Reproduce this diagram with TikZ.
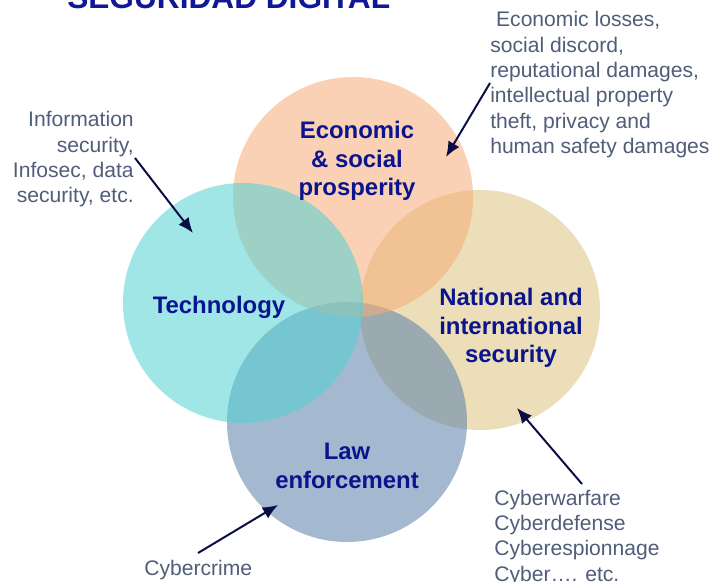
\documentclass[tikz,border=0pt]{standalone}
\usepackage{fontspec}
\setmainfont{Liberation Sans}
\usepackage{xcolor}
\usetikzlibrary{arrows.meta}
\definecolor{titleblue}{RGB}{16,24,150}
\definecolor{labelblue}{RGB}{10,20,140}
\definecolor{notegray}{RGB}{80,94,122}
\definecolor{arrownavy}{RGB}{10,12,70}
\definecolor{econfill}{RGB}{246,173,119}
\definecolor{techfill}{RGB}{82,210,213}
\definecolor{secfill}{RGB}{219,195,128}
\definecolor{lawfill}{RGB}{91,128,170}

\tikzset{
  disc/.style={fill opacity=0.55},
  area/.style={font=\fontsize{17}{20.3}\selectfont\bfseries,text=labelblue,align=center,inner sep=0pt},
  note/.style={font=\fontsize{15}{18.1}\selectfont,text=notegray,inner sep=0pt},
  pointer/.style={->,draw=arrownavy,line width=1.4pt}
}

\begin{document}
\begin{tikzpicture}[x=0.025cm,y=-0.025cm,>={Latex[length=3.8mm,width=3.2mm]}]
  \clip (0,0) rectangle (715,582);
  \fill[white] (0,0) rectangle (715,582);
  \node[font=\fontsize{22.5}{27}\selectfont\bfseries,text=titleblue,anchor=base west,inner sep=0pt] (title) at (67,9) {SEGURIDAD DIGITAL};

  \fill[disc,secfill] (480,310) circle (120);
  \fill[disc,lawfill] (347,422) circle (120);
  \fill[disc,econfill] (353,197) circle (120);
  \fill[disc,techfill] (243,303) circle (120);

  \node[area] (econ) at (357,161) {Economic\\\& social\\prosperity};
  \node[area] (tech) at (219,307) {Technology};
  \node[area] (natsec) at (511,328) {National and\\international\\security};
  \node[area] (law) at (347,466) {Law\\enforcement};

  \node[note,align=right,anchor=north east] (infonote) at (134,111) {Information\\security,\\Infosec, data\\security, etc.};
  \node[note,align=left,anchor=north west] (econnote) at (490,11) {\ Economic losses,\\social discord,\\reputational damages,\\intellectual property\\theft, privacy and\\human safety damages};
  \node[note,align=left,anchor=north west] (secnote) at (494,489.5) {Cyberwarfare\\Cyberdefense\\Cyberespionnage\\Cyber…. etc.};
  \node[note,anchor=north west] (crimenote) at (144,560) {Cybercrime};

  \coordinate (infotail) at (135,158);
  \coordinate (infotip) at (193,233);
  \coordinate (econtail) at (490,83);
  \coordinate (econtip) at (446,157);
  \coordinate (sectail) at (582,484);
  \coordinate (sectip) at (517,408);
  \coordinate (crimetail) at (198,553);
  \coordinate (crimetip) at (278,505);

  \draw[pointer] (infotail) -- (infotip);
  \draw[pointer] (econtail) -- (econtip);
  \draw[pointer] (sectail) -- (sectip);
  \draw[pointer] (crimetail) -- (crimetip);
\end{tikzpicture}
\end{document}
